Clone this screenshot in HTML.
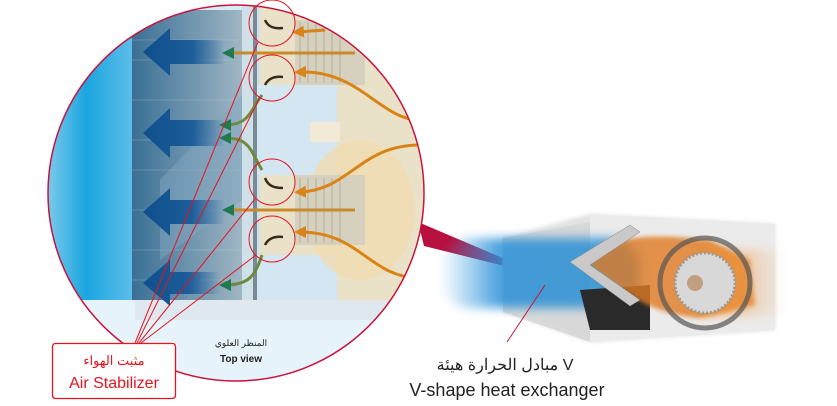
<!DOCTYPE html>
<html><head><meta charset="utf-8"><style>
html,body{margin:0;padding:0;background:#fff;width:837px;height:406px;overflow:hidden}
svg{display:block}
</style></head><body>
<svg width="837" height="406" viewBox="0 0 837 406" xmlns="http://www.w3.org/2000/svg">
<defs>
<clipPath id="c"><circle cx="236" cy="193" r="188"/></clipPath>
<filter id="bz" x="-20%" y="-40%" width="140%" height="180%"><feGaussianBlur stdDeviation="5"/></filter>
<filter id="bz2"><feGaussianBlur stdDeviation="2"/></filter>
<linearGradient id="bl" x1="0" x2="1" y1="0" y2="0">
<stop offset="0" stop-color="#8fd0ee"/><stop offset="0.5" stop-color="#1aa6e0"/><stop offset="1" stop-color="#5cbde8"/></linearGradient>
<linearGradient id="fin" x1="0" x2="1"><stop offset="0" stop-color="#3a6f95"/><stop offset="1" stop-color="#9fb6c4"/></linearGradient>
<linearGradient id="ar" x1="0" x2="1"><stop offset="0" stop-color="#0f4f8c"/><stop offset="0.6" stop-color="#1d5d9a"/><stop offset="1" stop-color="#1d5d9a" stop-opacity="0"/></linearGradient>
<linearGradient id="bf" x1="0" x2="1"><stop offset="0" stop-color="#3aa0e0" stop-opacity="0"/><stop offset="0.3" stop-color="#2a90d8"/><stop offset="1" stop-color="#2b8fd0"/></linearGradient>
<linearGradient id="of" x1="0" x2="1"><stop offset="0" stop-color="#f08a20"/><stop offset="1" stop-color="#f5a050" stop-opacity="0"/></linearGradient>
<marker id="ao" viewBox="0 0 10 10" refX="5" refY="5" markerWidth="4" markerHeight="4" orient="auto-start-reverse"><path d="M0,0L10,5L0,10z" fill="#d98418"/></marker>
<marker id="ag" viewBox="0 0 10 10" refX="5" refY="5" markerWidth="4" markerHeight="4" orient="auto-start-reverse"><path d="M0,0L10,5L0,10z" fill="#1f7a50"/></marker>
</defs>

<polygon points="418,222 424,246 545,276" fill="#b8103f"/>

<g clip-path="url(#c)">
<rect x="40" y="0" width="400" height="400" fill="#d8ecf6"/>
<rect x="40" y="0" width="92" height="300" fill="url(#bl)"/>
<rect x="132" y="10" width="110" height="290" fill="url(#fin)"/>
<g stroke="#c8d8e2" stroke-width="0.6" opacity="0.5">
<line x1="132" y1="40" x2="242" y2="40"/><line x1="132" y1="60" x2="242" y2="60"/><line x1="132" y1="100" x2="242" y2="100"/><line x1="132" y1="140" x2="242" y2="140"/><line x1="132" y1="170" x2="242" y2="170"/><line x1="132" y1="210" x2="242" y2="210"/><line x1="132" y1="250" x2="242" y2="250"/><line x1="132" y1="280" x2="242" y2="280"/></g>
<polygon points="160,180 242,95 242,200 160,260" fill="#7fa6bf" opacity="0.5"/>
<rect x="242" y="0" width="18" height="320" fill="#cfe0e8"/>
<rect x="253" y="0" width="4" height="320" fill="#7a8a94"/>
<rect x="260" y="0" width="180" height="300" fill="#e9e2c8"/>
<rect x="257" y="85" width="80" height="90" fill="#d4e6f2"/>
<rect x="257" y="255" width="80" height="50" fill="#d4e6f2"/>
<ellipse cx="360" cy="210" rx="55" ry="70" fill="#efdcb0" opacity="0.8"/>
<rect x="295" y="20" width="70" height="65" fill="#d6d0bf"/>
<rect x="295" y="175" width="70" height="70" fill="#d6d0bf"/>
<g stroke="#b7ae98" stroke-width="1">
<line x1="300" y1="22" x2="300" y2="83"/><line x1="308" y1="22" x2="308" y2="83"/><line x1="316" y1="22" x2="316" y2="83"/><line x1="324" y1="22" x2="324" y2="83"/><line x1="332" y1="22" x2="332" y2="83"/><line x1="340" y1="22" x2="340" y2="83"/>
<line x1="300" y1="178" x2="300" y2="243"/><line x1="308" y1="178" x2="308" y2="243"/><line x1="316" y1="178" x2="316" y2="243"/><line x1="324" y1="178" x2="324" y2="243"/><line x1="332" y1="178" x2="332" y2="243"/><line x1="340" y1="178" x2="340" y2="243"/></g>
<rect x="310" y="122" width="30" height="20" fill="#f2ead6"/>
<rect x="40" y="300" width="400" height="100" fill="#e6f3fa"/>
<rect x="135" y="300" width="300" height="20" fill="#dfe8ee"/>
<g fill="url(#ar)">
<polygon points="143,52 170,28 170,40 225,40 225,64 170,64 170,76"/>
<polygon points="143,133 170,108 170,120 225,120 225,146 170,146 170,158"/>
<polygon points="143,212 170,188 170,200 225,200 225,224 170,224 170,236"/>
<polygon points="143,283 170,260 170,272 220,272 220,294 170,294 170,306"/>
</g>
<g fill="none" stroke-width="3">
<line x1="355" y1="53" x2="228" y2="53" stroke="#c98a2a" marker-end="url(#ag)"/>
<line x1="355" y1="210" x2="228" y2="210" stroke="#c98a2a" marker-end="url(#ag)"/>
<path d="M325,30 L298,32" stroke="#d98418" marker-end="url(#ao)"/>
<path d="M420,120 C380,120 360,70 300,72" stroke="#d98418" marker-end="url(#ao)"/>
<path d="M420,145 C360,145 350,190 300,192" stroke="#d98418" marker-end="url(#ao)"/>
<path d="M420,278 C370,278 360,232 300,232" stroke="#d98418" marker-end="url(#ao)"/>
<path d="M262,95 C250,110 250,125 225,125" stroke="#6f8a40" marker-end="url(#ag)"/>
<path d="M262,170 C250,150 250,138 225,138" stroke="#6f8a40" marker-end="url(#ag)"/>
<path d="M262,255 C255,275 250,285 225,285" stroke="#6f8a40" marker-end="url(#ag)"/>
</g>
<g fill="none" stroke="#3a2a1a" stroke-width="2.5">
<path d="M265,20 C268,27 274,29 283,28"/><path d="M265,85 C268,79 274,76 283,77"/>
<path d="M265,178 C268,186 274,188 283,188"/><path d="M265,245 C268,239 274,236 283,237"/></g>
</g>
<circle cx="236" cy="193" r="188" fill="none" stroke="#c8143c" stroke-width="1.5"/>

<g fill="none" stroke="#e8131f" stroke-width="1">
<circle cx="272" cy="23" r="23"/><circle cx="272" cy="78" r="23"/>
<circle cx="272" cy="182" r="23"/><circle cx="272" cy="239" r="23"/>
<line x1="135" y1="343" x2="258" y2="42"/><line x1="137" y1="343" x2="260" y2="97"/>
<line x1="139" y1="343" x2="255" y2="199"/><line x1="141" y1="343" x2="256" y2="255"/>
</g>
<rect x="52.5" y="343.5" width="123" height="55" rx="3" fill="#fff" stroke="#e8131f" stroke-width="1.3"/>
<text x="114" y="365" font-family="'Liberation Sans','Noto Sans CJK SC',sans-serif" font-size="13" fill="#e8131f" text-anchor="middle">مثبت الهواء</text>
<text x="114" y="388" font-family="'Liberation Sans',sans-serif" font-size="16" fill="#e8131f" text-anchor="middle">Air Stabilizer</text>
<text x="241" y="346" font-family="'Liberation Sans','Noto Sans CJK SC',sans-serif" font-size="9" fill="#222" text-anchor="middle">المنظر العلوي</text>
<text x="241" y="362" font-family="'Liberation Sans',sans-serif" font-size="10" font-weight="bold" fill="#222" text-anchor="middle">Top view</text>

<!-- unit -->
<polygon points="503,238 560,222 590,214 775,224 775,330 590,342 503,312" fill="#e2e2e2" filter="url(#bz2)"/>
<polygon points="590,214 775,224 775,330 590,342" fill="#ebebeb"/>
<polygon points="503,238 590,222 590,342 503,312" fill="#d6d6d6" opacity="0.8"/>
<rect x="440" y="238" width="200" height="70" rx="30" fill="url(#bf)" opacity="0.85" filter="url(#bz)"/>
<polygon points="580,290 650,285 650,330 590,330" fill="#2a2a2a"/>
<path d="M590,265 C610,230 660,235 710,240 L750,260 L755,305 L700,318 C660,315 630,300 590,265z" fill="#e07a20" opacity="0.8" filter="url(#bz2)"/>
<polygon points="570,262 630,225 640,232 590,265 640,300 630,306" fill="#c9c9c9" stroke="#888" stroke-width="0.5"/>
<rect x="700" y="250" width="85" height="65" fill="url(#of)" opacity="0.8" filter="url(#bz)"/>
<circle cx="705" cy="283" r="45" fill="none" stroke="#555" stroke-width="5" opacity="0.7"/>
<circle cx="705" cy="283" r="30" fill="#d8d8d8" stroke="#999" stroke-width="3" stroke-dasharray="2 2"/>
<circle cx="695" cy="283" r="8" fill="#c0a080"/>
<line x1="545" y1="285" x2="507" y2="342" stroke="#c8143c" stroke-width="1"/>
<text x="505" y="370" font-family="'Liberation Sans','Noto Sans CJK SC',sans-serif" font-size="16" fill="#222" text-anchor="middle">مبادل الحرارة هيئة V</text>
<text x="507" y="396" font-family="'Liberation Sans',sans-serif" font-size="18" fill="#222" text-anchor="middle">V-shape heat exchanger</text>
</svg>
</body></html>
